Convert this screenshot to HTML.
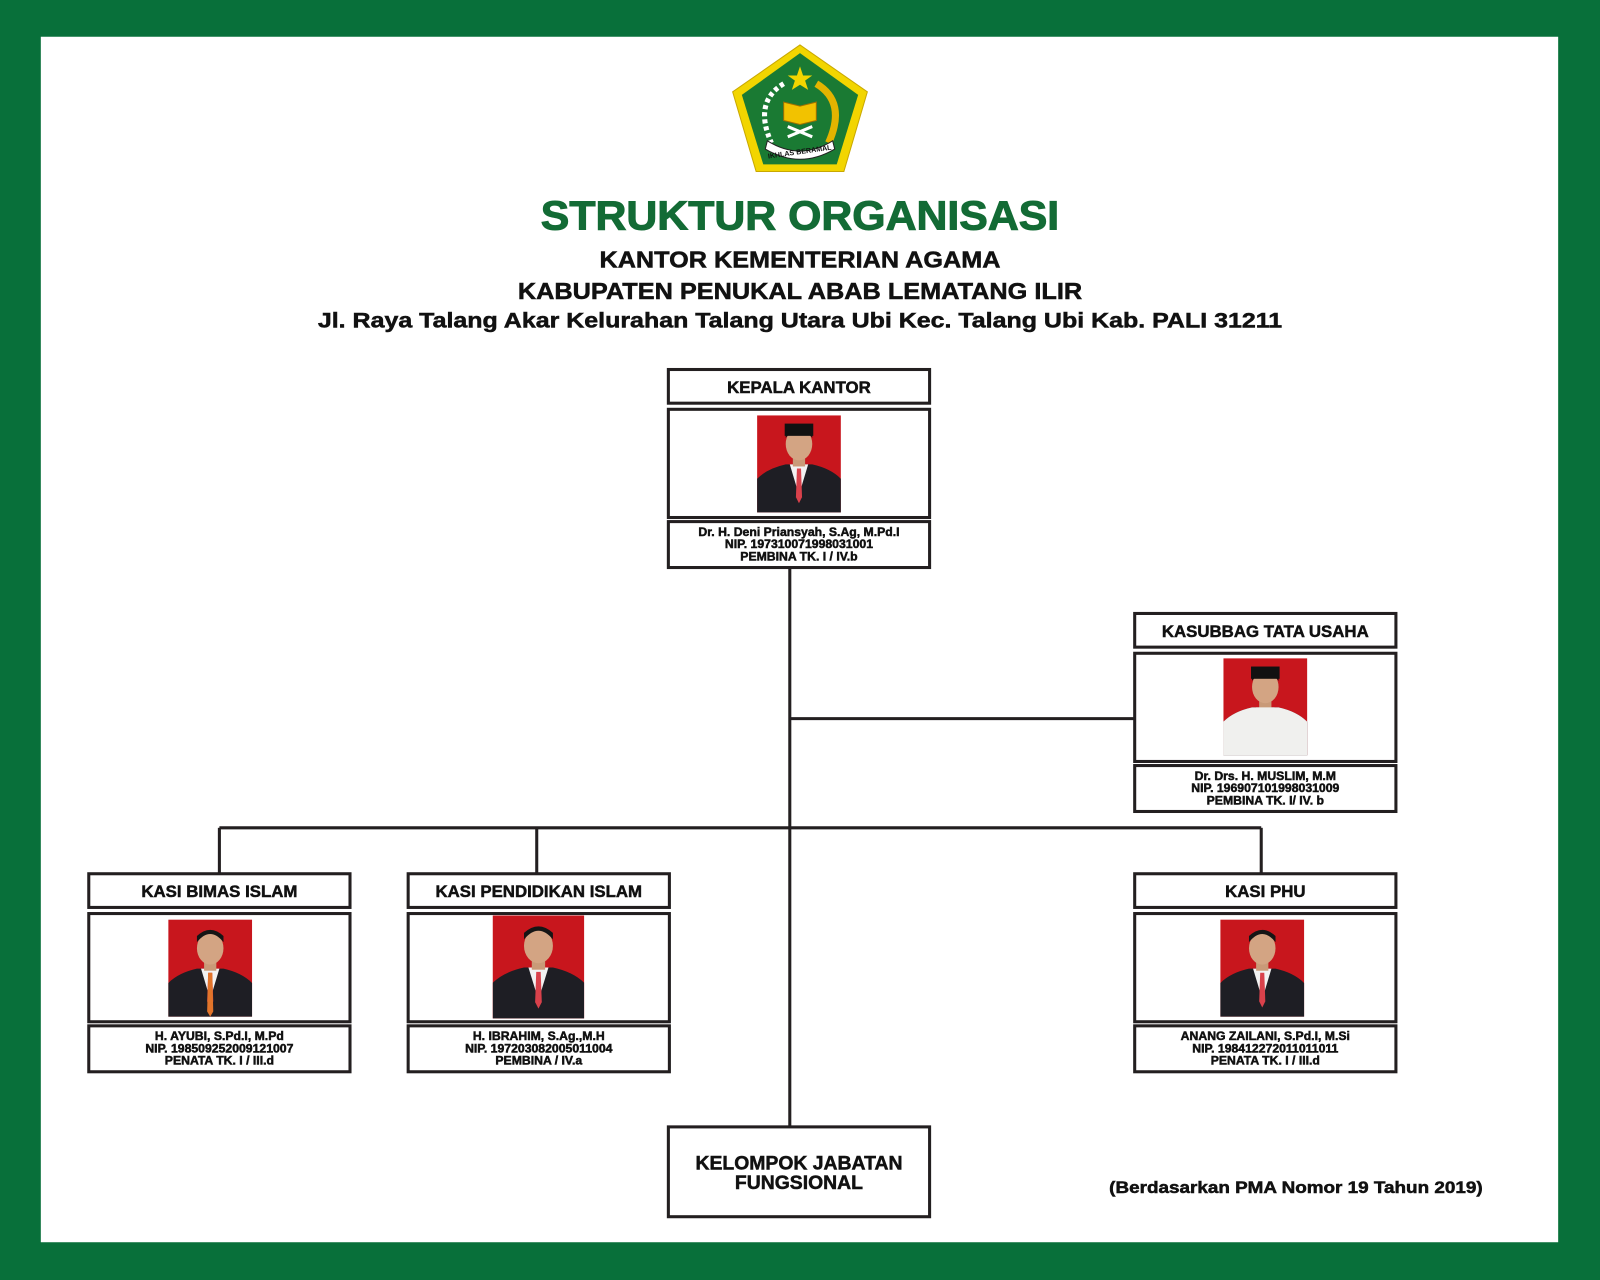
<!DOCTYPE html>
<html><head><meta charset="utf-8"><style>
html,body{margin:0;padding:0;width:1600px;height:1280px;overflow:hidden;background:#0a703a}
svg{display:block}
text{font-family:"Liberation Sans",sans-serif;font-weight:bold;fill:#111;stroke:#111;stroke-width:0.5}
</style></head><body>
<svg width="1600" height="1280" viewBox="0 0 1568 1254" preserveAspectRatio="none" xmlns="http://www.w3.org/2000/svg">
<rect x="0" y="0" width="1568" height="1254" fill="#08703a"/>
<rect x="40" y="36" width="1487" height="1181" fill="#fff"/>

<!-- logo -->
<polygon points="784,44 850,90 827,168 741,168 718,90" fill="#f2d500" stroke="#c9a800" stroke-width="1"/>
<polygon points="784,52 841,93 820,161 748,161 727,93" fill="#1a7a33"/>
<polygon points="784,65 787,74 796,74 789,79 792,88 784,83 776,88 779,79 772,74 781,74" fill="#f2d500"/>
<path d="M800,82 Q830,100 812,140" stroke="#e3b400" stroke-width="7" fill="none"/>
<path d="M768,82 Q738,100 756,140" stroke="#fff" stroke-width="5" fill="none" stroke-dasharray="4 3"/>
<path d="M768,100 L784,104 L800,100 L800,118 L784,122 L768,118 Z" fill="#f2c200" stroke="#a06f00"/>
<path d="M772,124 L796,134 M796,124 L772,134" stroke="#fff" stroke-width="3"/>
<path d="M752,138 Q784,158 816,138 L818,146 Q784,166 750,146 Z" fill="#fff" stroke="#222"/>
<text x="784" y="151" font-size="7" text-anchor="middle" transform="rotate(-8 784 151)" style="stroke-width:0">IKHLAS BERAMAL</text>

<text x="784" y="225" font-size="40" text-anchor="middle" textLength="508" lengthAdjust="spacingAndGlyphs" style="fill:#136b35;stroke:#136b35;stroke-width:1">STRUKTUR ORGANISASI</text>
<text x="784" y="262" font-size="23" text-anchor="middle" textLength="393" lengthAdjust="spacingAndGlyphs">KANTOR KEMENTERIAN AGAMA</text>
<text x="784" y="293" font-size="23" text-anchor="middle" textLength="553" lengthAdjust="spacingAndGlyphs">KABUPATEN PENUKAL ABAB LEMATANG ILIR</text>
<text x="784" y="321" font-size="21" text-anchor="middle" textLength="945" lengthAdjust="spacingAndGlyphs">Jl. Raya Talang Akar Kelurahan Talang Utara Ubi Kec. Talang Ubi Kab. PALI 31211</text>

<!-- connectors -->
<g stroke="#231f20" stroke-width="3" fill="none">
<line x1="774" y1="556" x2="774" y2="1104"/>
<line x1="774" y1="704" x2="1112" y2="704"/>
<line x1="215" y1="811" x2="1236" y2="811"/>
<line x1="215" y1="811" x2="215" y2="856"/>
<line x1="526" y1="811" x2="526" y2="856"/>
<line x1="1236" y1="811" x2="1236" y2="856"/>
</g>

<!-- boxes -->
<g stroke="#231f20" stroke-width="3" fill="#fff">
<rect x="655" y="362" width="256" height="33"/><rect x="655" y="401" width="256" height="106"/><rect x="655" y="511" width="256" height="45"/>
<rect x="1112" y="601" width="256" height="33"/><rect x="1112" y="640" width="256" height="106"/><rect x="1112" y="750" width="256" height="45"/>
<rect x="87" y="856" width="256" height="33"/><rect x="87" y="895" width="256" height="106"/><rect x="87" y="1005" width="256" height="45"/>
<rect x="400" y="856" width="256" height="33"/><rect x="400" y="895" width="256" height="106"/><rect x="400" y="1005" width="256" height="45"/>
<rect x="1112" y="856" width="256" height="33"/><rect x="1112" y="895" width="256" height="106"/><rect x="1112" y="1005" width="256" height="45"/>
<rect x="655" y="1104" width="256" height="88"/>
</g>

<!-- photos -->
<defs>
<g id="p">
<rect x="0" y="0" width="82" height="95" fill="#c8161d"/>
<path d="M0,95 L0,62 Q10,52 28,48 L54,48 Q72,52 82,62 L82,95 Z" fill="#1e1e24"/>
<path d="M32,48 L41,78 L50,48 Z" fill="#f2f2f2"/>
<path d="M39,52 L43,52 L44,80 L41,86 L38,80 Z" fill="#d9414b"/>
<rect x="35" y="36" width="12" height="14" fill="#c99a78"/>
<ellipse cx="41" cy="28" rx="13" ry="16" fill="#d3a483"/>
<path d="M28,22 Q41,6 54,22 L54,16 Q41,4 28,16 Z" fill="#151515"/>
</g>
</defs>
<g transform="translate(742,407)"><use href="#p"/><rect x="27" y="8" width="28" height="12" fill="#111"/></g>
<g transform="translate(1199,645)"><use href="#p"/><path d="M0,95 L0,62 Q10,52 28,48 L54,48 Q72,52 82,62 L82,95 Z" fill="#f0f0ee"/><rect x="27" y="8" width="28" height="12" fill="#111"/></g>
<g transform="translate(165,901)"><use href="#p"/><path d="M39,52 L43,52 L44,90 L41,95 L38,90 Z" fill="#e2742a"/></g>
<g transform="translate(483,897) scale(1.09,1.06)"><rect width="82" height="95" fill="#e2352a"/><use href="#p"/></g>
<g transform="translate(1196,901)"><use href="#p"/></g>

<!-- titles -->
<g font-size="16.5" text-anchor="middle">
<text x="783" y="385">KEPALA KANTOR</text>
<text x="1240" y="624">KASUBBAG TATA USAHA</text>
<text x="215" y="879">KASI BIMAS ISLAM</text>
<text x="528" y="879">KASI PENDIDIKAN ISLAM</text>
<text x="1240" y="879">KASI PHU</text>
</g>
<g font-size="12" text-anchor="middle">
<text x="783" y="525">Dr. H. Deni Priansyah, S.Ag, M.Pd.I</text>
<text x="783" y="537">NIP. 197310071998031001</text>
<text x="783" y="549">PEMBINA TK. I / IV.b</text>
<text x="1240" y="764">Dr. Drs. H. MUSLIM, M.M</text>
<text x="1240" y="776">NIP. 196907101998031009</text>
<text x="1240" y="788">PEMBINA TK. I/ IV. b</text>
<text x="215" y="1019">H. AYUBI, S.Pd.I, M.Pd</text>
<text x="215" y="1031">NIP. 198509252009121007</text>
<text x="215" y="1043">PENATA TK. I / III.d</text>
<text x="528" y="1019">H. IBRAHIM, S.Ag.,M.H</text>
<text x="528" y="1031">NIP. 197203082005011004</text>
<text x="528" y="1043">PEMBINA / IV.a</text>
<text x="1240" y="1019">ANANG ZAILANI, S.Pd.I, M.Si</text>
<text x="1240" y="1031">NIP. 198412272011011011</text>
<text x="1240" y="1043">PENATA TK. I / III.d</text>
</g>
<text x="783" y="1146" font-size="19" text-anchor="middle">KELOMPOK JABATAN</text>
<text x="783" y="1165" font-size="19" text-anchor="middle">FUNGSIONAL</text>
<text x="1270" y="1169" font-size="16" text-anchor="middle" textLength="366" lengthAdjust="spacingAndGlyphs">(Berdasarkan PMA Nomor 19 Tahun 2019)</text>
</svg>
</body></html>
